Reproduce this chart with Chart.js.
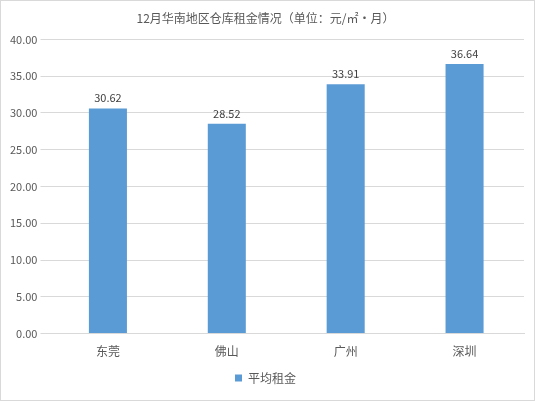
<!DOCTYPE html>
<html><head><meta charset="utf-8">
<script src="https://cdn.jsdelivr.net/npm/chart.js@4"></script>
<style>html,body{margin:0;padding:0;background:#fff}
#w{width:533px;height:399px;border:1px solid #d9d9d9;position:relative}</style>
</head><body><div id="w"><canvas id="c"></canvas></div>
<script>
const categories=["东莞","佛山","广州","深圳"];
const values=[30.62,28.52,33.91,36.64];
const seriesName="平均租金";
const titleText="12月华南地区仓库租金情况（单位：元/㎡·月）";
const font="'Microsoft YaHei','Noto Sans CJK SC',sans-serif";
const labelPlugin={id:'lbl',afterDatasetsDraw(ch){const ctx=ch.ctx;const m=ch.getDatasetMeta(0);ctx.save();ctx.fillStyle='#404040';ctx.font="11px "+font;ctx.textAlign='center';ctx.textBaseline='bottom';m.data.forEach((b,i)=>ctx.fillText(values[i].toFixed(2),b.x,b.y-5));ctx.restore();}};
new Chart(document.getElementById('c'),{type:'bar',
data:{labels:categories,datasets:[{label:seriesName,data:values,backgroundColor:'#5b9bd5',barPercentage:0.64,categoryPercentage:0.5}]},
options:{responsive:true,maintainAspectRatio:false,animation:false,
layout:{padding:{left:6,right:10,top:4,bottom:6}},
plugins:{title:{display:true,text:titleText,color:'#595959',font:{family:font,size:12,weight:'normal'},padding:{top:6,bottom:14}},
legend:{position:'bottom',labels:{boxWidth:7,boxHeight:7,color:'#595959',font:{family:font,size:12}}},tooltip:{enabled:false}},
scales:{x:{grid:{display:false},border:{color:'#d9d9d9'},ticks:{color:'#595959',font:{family:font,size:12}}},
y:{min:0,max:40,ticks:{stepSize:5,color:'#595959',font:{family:font,size:11},callback:v=>v.toFixed(2)},grid:{color:'#d9d9d9'},border:{display:false}}}},
plugins:[labelPlugin]});
</script></body></html>
